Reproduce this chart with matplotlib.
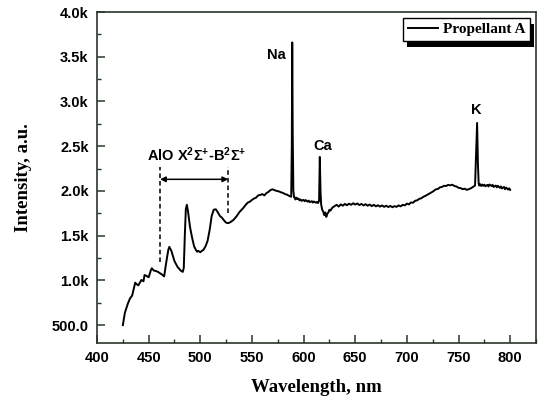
import matplotlib
matplotlib.use("Agg")
import matplotlib.pyplot as plt
from matplotlib.ticker import FixedLocator, MultipleLocator
from matplotlib.patches import Rectangle
from matplotlib.transforms import IdentityTransform

# ---- data ----
wavelength = [425, 427, 430, 432, 434, 436, 437, 438, 440, 442, 443, 445, 446, 448, 450,
              452, 453, 455, 457, 459, 461, 463, 465, 467, 469, 470, 472, 475, 478, 481,
              483, 484, 485, 486, 487, 488, 490, 492, 494, 496, 497, 498, 500, 502, 503, 505, 507, 509,
              511, 513, 515, 517, 519, 521, 523, 525, 527, 529, 532, 535, 538,
              540, 542, 544, 546, 548, 550, 552, 554, 556, 558, 560, 562, 564, 566, 568,
              570, 572, 574, 576, 578, 580, 582, 584, 586, 588,
              588.6, 589.0, 589.5, 590.1, 590.8, 591.2, 592, 593, 594, 595, 596, 597, 598,
              600, 601, 602, 604, 605, 606, 608, 609, 610, 612, 613, 614, 615, 615.7, 616.4,
              617, 618, 619, 620, 621, 622, 623, 624, 625, 626, 628, 630, 632, 634, 636, 638,
              640, 642, 644, 646, 648, 650, 652, 654, 656, 658, 660, 662, 664, 666, 668,
              670, 672, 674, 676, 678, 680, 682, 684, 686, 688, 690, 692, 694, 696, 698,
              700, 702, 704, 706, 708, 710, 712, 714, 716, 718, 720, 722, 724, 726, 728,
              730, 732, 734, 736, 738, 740, 742, 744, 746, 748, 750, 752, 754, 756, 758,
              760, 762, 764, 766, 767, 768, 768.8, 769.5, 770, 771, 772, 773, 774, 775,
              776, 778, 779, 780, 782, 783, 784, 786, 787, 788, 790, 791, 792, 794, 795,
              796, 798, 799, 800]
intensity = [500, 640, 745, 800, 830, 930, 975, 960, 945, 985, 1005, 990, 1060, 1050, 1035,
             1110, 1135, 1110, 1105, 1095, 1080, 1065, 1045, 1200, 1340, 1375, 1330, 1215, 1150, 1110,
             1095, 1140, 1500, 1800, 1845, 1780, 1600, 1480, 1380, 1335, 1320, 1330, 1315, 1335, 1340, 1380, 1440, 1560,
             1720, 1790, 1795, 1760, 1720, 1700, 1670, 1645, 1640, 1650, 1675, 1715, 1765,
             1790, 1815, 1845, 1870, 1880, 1900, 1915, 1925, 1950, 1955, 1965, 1950, 1975, 1990, 2010,
             2018, 2008, 2000, 1995, 1985, 1978, 1965, 1958, 1945, 1935,
             2500, 3660, 2600, 2000, 1930, 1930, 1905, 1925, 1910, 1915, 1895, 1905, 1890,
             1900, 1885, 1898, 1880, 1892, 1875, 1885, 1870, 1882, 1868, 1878, 1865, 1890, 2380, 1990,
             1850, 1790, 1770, 1730, 1760, 1710, 1745, 1760, 1790, 1780, 1815, 1830, 1845, 1825, 1850, 1835,
             1855, 1840, 1858, 1845, 1862, 1848, 1860, 1842, 1855, 1838, 1852, 1835, 1848, 1830, 1845,
             1828, 1840, 1825, 1838, 1822, 1835, 1820, 1832, 1818, 1830, 1822, 1838, 1828, 1845, 1838,
             1858, 1850, 1872, 1868, 1890, 1895, 1912, 1918, 1935, 1945, 1958, 1972, 1985, 2000, 2018,
             2022, 2040, 2045, 2058, 2055, 2068, 2062, 2070, 2055, 2050, 2035, 2032, 2020, 2025, 2012,
             2020, 2030, 2045, 2060, 2400, 2760, 2300, 2085, 2060, 2075, 2055, 2072, 2058, 2070,
             2052, 2068, 2050, 2072, 2055, 2068, 2045, 2060, 2040, 2058, 2035, 2050, 2028, 2045, 2020,
             2038, 2015, 2030, 2012]

y_ticks = [500, 1000, 1500, 2000, 2500, 3000, 3500, 4000]
y_tick_labels = ["500.0", "1.0k", "1.5k", "2.0k", "2.5k", "3.0k", "3.5k", "4.0k"]
x_ticks = [400, 450, 500, 550, 600, 650, 700, 750, 800]

peak_labels = ["Na", "Ca", "K"]
peak_label_pos = [(573.5, 3520), (619, 2500), (767, 2910)]

band_start, band_end = 461, 527

plt.rcParams["mathtext.fontset"] = "custom"
plt.rcParams["mathtext.rm"] = "Liberation Sans:bold"
plt.rcParams["mathtext.it"] = "Liberation Sans:bold"
plt.rcParams["mathtext.bf"] = "Liberation Sans:bold"
plt.rcParams["mathtext.sf"] = "Liberation Sans:bold"

spine_col = "#2b362b"
fig = plt.figure(figsize=(5.39, 4.01), dpi=100)
ax = fig.add_axes([0.180, 0.1446, 0.8144, 0.8254])

ax.plot(wavelength, intensity, color="black", lw=1.4, label="Propellant A")

ax.set_xlim(400, 825)
ax.set_ylim(300, 4000)
ax.xaxis.set_major_locator(FixedLocator(x_ticks))
ax.xaxis.set_minor_locator(MultipleLocator(25))
ax.yaxis.set_major_locator(FixedLocator(y_ticks))
ax.set_yticklabels(y_tick_labels)
ax.yaxis.set_minor_locator(MultipleLocator(250))

for s in ax.spines.values():
    s.set_color(spine_col)
    s.set_linewidth(1.2)
ax.tick_params(which="both", direction="in", top=False, right=False, color=spine_col)
ax.tick_params(which="major", length=6, width=1.1)
ax.tick_params(which="minor", length=3, width=1.0)
ax.tick_params(axis="x", pad=6)
ax.tick_params(axis="y", pad=6)
for lab in ax.get_xticklabels() + ax.get_yticklabels():
    lab.set_fontfamily("Liberation Sans")
    lab.set_fontweight("bold")
    lab.set_fontsize(10.5)

ax.set_xlabel("Wavelength, nm", fontfamily="Liberation Serif", fontweight="bold", fontsize=13.5, labelpad=10)
ax.set_ylabel("Intensity, a.u.", fontfamily="Liberation Serif", fontweight="bold", fontsize=13.5, labelpad=14)

for t, (x, y) in zip(peak_labels, peak_label_pos):
    ax.text(x, y, t, fontfamily="Liberation Sans", fontweight="bold", fontsize=10.5, ha="center", va="center")

ax.text(496.5, 2400, r"AlO X$^2\Sigma^{+}$-B$^2\Sigma^{+}$", fontfamily="Liberation Sans",
        fontweight="bold", fontsize=10.5, ha="center", va="center")
ax.plot([band_start, band_start], [1210, 2270], ls=(0, (3, 2)), color="black", lw=1.1)
ax.plot([band_end, band_end], [1750, 2270], ls=(0, (3, 2)), color="black", lw=1.1)
ax.annotate("", xy=(band_start, 2130), xytext=(band_end, 2130),
            arrowprops=dict(arrowstyle="<|-|>", color="black", lw=1.1,
                            shrinkA=0, shrinkB=0, mutation_scale=8))

leg = ax.legend(loc="upper right", bbox_to_anchor=(0.9863, 0.982), borderaxespad=0, fancybox=False,
                framealpha=1, edgecolor="black", borderpad=0.3, handlelength=2.0, handletextpad=0.3,
                prop={"family": "Liberation Serif", "weight": "bold", "size": 11})
leg.get_frame().set_linewidth(1.0)
leg.set_zorder(6)

fig.canvas.draw()
bb = leg.get_window_extent()
shadow = Rectangle((bb.x0 + 4, bb.y0 - 6), bb.width, bb.height, transform=IdentityTransform(),
                   facecolor="black", edgecolor="none", zorder=5.5, clip_on=False)
ax.add_artist(shadow)

fig.savefig("out.png", dpi=100)
